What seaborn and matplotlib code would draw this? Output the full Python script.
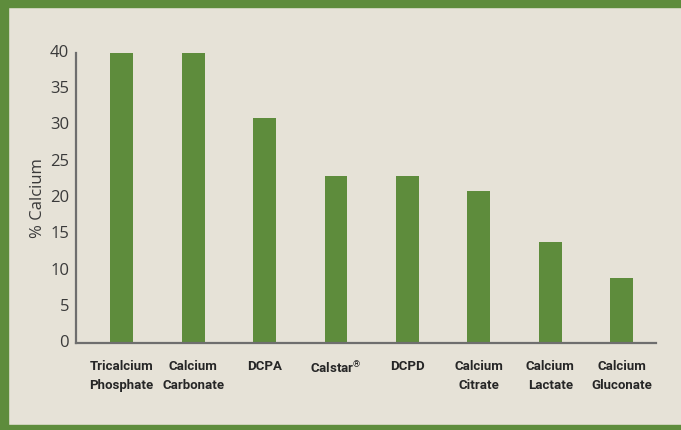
import matplotlib
matplotlib.use("Agg")
import matplotlib.pyplot as plt
import matplotlib.patches as mpatches
import matplotlib.transforms as mtransforms
import seaborn as sns
import pandas as pd

# Data
compounds = ["Tricalcium\nPhosphate", "Calcium\nCarbonate", "DCPA", "Calstar$^{®}$",
             "DCPD", "Calcium\nCitrate", "Calcium\nLactate", "Calcium\nGluconate"]
calcium_pct = [40, 40, 31, 23, 23, 21, 14, 9]
y_ticks = [0, 5, 10, 15, 20, 25, 30, 35, 40]

green = "#5e8c3c"
bg = "#e6e2d7"
axis_grey = "#6e6e6e"

df = pd.DataFrame({"compound": compounds, "pct": calcium_pct})

sns.set_style("white")
plt.rcParams["font.family"] = ["Open Sans", "DejaVu Sans"]
plt.rcParams["mathtext.fontset"] = "custom"
plt.rcParams["mathtext.rm"] = "Roboto"

fig = plt.figure(figsize=(6.81, 4.30), dpi=100, facecolor=bg)
W, H = 681, 430
ax = fig.add_axes([76 / W, (H - 343.3) / H, (656 - 76) / W, (343.3 - 52.7) / H])
ax.set_facecolor(bg)

sns.barplot(data=df, x="compound", y="pct", color=green, saturation=1,
            width=0.32, linewidth=0, ax=ax)
for p in ax.patches:
    p.set_clip_on(False)

ax.set_xlim(-0.64, 7.48)
ax.set_ylim(0, 40)
ax.set_yticks(y_ticks)
ax.set_yticklabels([str(t) for t in y_ticks], fontsize=12, color="#3a3a3a",
                   va="center")
# labels sit a few pixels above their value in the original
shift = mtransforms.ScaledTranslation(0, 6 / 100, fig.dpi_scale_trans)
for lbl in ax.get_yticklabels():
    lbl.set_transform(lbl.get_transform() + shift)

ax.set_xticks(range(len(compounds)))
ax.set_xticklabels(compounds, fontsize=9.5, fontweight="bold", color="#262626",
                   family=["Roboto", "DejaVu Sans"], linespacing=1.6)
ax.tick_params(axis="y", length=0, pad=5)
ax.tick_params(axis="x", length=0, pad=12)

ax.set_xlabel("")
ax.set_ylabel("% Calcium", fontsize=12, color="#3a3a3a", labelpad=3)

for side in ["top", "right"]:
    ax.spines[side].set_visible(False)
for side in ["left", "bottom"]:
    ax.spines[side].set_color(axis_grey)
    ax.spines[side].set_linewidth(1.6)

# green frame on left, top and bottom
fig.patches.append(mpatches.Rectangle((0, 0), 8 / W, 1, transform=fig.transFigure,
                                      color=green, zorder=0))
fig.patches.append(mpatches.Rectangle((0, 1 - 7 / H), 1, 7 / H, transform=fig.transFigure,
                                      color=green, zorder=0))
fig.patches.append(mpatches.Rectangle((0, 0), 1, 5 / H, transform=fig.transFigure,
                                      color=green, zorder=0))

fig.savefig("out.png", dpi=100, facecolor=bg)
